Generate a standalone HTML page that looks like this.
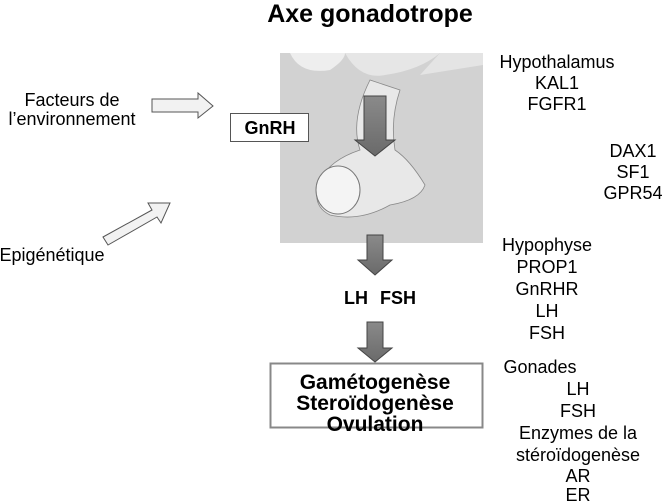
<!DOCTYPE html>
<html><head><meta charset="utf-8"><style>
body{margin:0;background:#fff;}
svg{display:block;font-family:"Liberation Sans",Arial,sans-serif;}
</style></head><body>
<svg width="662" height="502" viewBox="0 0 662 502" xmlns="http://www.w3.org/2000/svg">
<defs>
<linearGradient id="g" x1="0" y1="0" x2="0" y2="1"><stop offset="0" stop-color="#8a8a8a"/><stop offset="1" stop-color="#6a6a6a"/></linearGradient>
</defs>
<text x="370" y="22" font-size="25" font-weight="bold" text-anchor="middle">Axe gonadotrope</text>
<rect x="280" y="53" width="203" height="190" fill="#d2d2d2"/>
<path d="M290 53 Q300 75 330 70 Q345 60 345 53 Z" fill="#eeeeee"/>
<path d="M345 53 Q360 80 385 75 Q420 70 440 53 Z" fill="#e6e6e6"/>
<path d="M420 75 L483 65 L483 53 L440 53 Z" fill="#e4e4e4"/>
<path d="M370 80 Q350 120 360 150 Q330 160 320 180 Q310 205 330 215 Q360 222 390 205 Q420 200 425 185 Q410 160 395 150 Q390 120 400 90 Z" fill="#e8e8e8" stroke="#888" stroke-width="0.8"/>
<ellipse cx="338" cy="190" rx="22" ry="24" fill="#f4f4f4" stroke="#777"/>
<rect x="230.5" y="113.5" width="78" height="28" fill="#fff" stroke="#555"/>
<text x="270" y="134" font-size="18" font-weight="bold" text-anchor="middle">GnRH</text>
<path d="M364 96 H386 V140 H395 L375 156 L355 140 H364 Z" fill="url(#g)" stroke="#444"/>
<path d="M367 235 H383 V260 H392 L375 275 L358 260 H367 Z" fill="url(#g)" stroke="#444"/>
<path d="M367 322 H383 V348 H392 L375 362 L358 348 H367 Z" fill="url(#g)" stroke="#444"/>
<path d="M152 99 H198 V93 L213 106 L198 118 V112 H152 Z" fill="#f2f2f2" stroke="#555"/>
<path d="M103 237 L152 210 L148 203 L170 203 L161 223 L157 217 L108 245 Z" fill="#f2f2f2" stroke="#555"/>
<text x="356" y="304" font-size="18" font-weight="bold" text-anchor="middle">LH</text>
<text x="398" y="304" font-size="18" font-weight="bold" text-anchor="middle">FSH</text>
<rect x="270.5" y="363.5" width="212" height="64" fill="#fff" stroke="#888" stroke-width="2"/>
<g font-size="21" font-weight="bold" text-anchor="middle">
<text x="375" y="389">Gamétogenèse</text>
<text x="375" y="410">Steroïdogenèse</text>
<text x="375" y="431">Ovulation</text>
</g>
<g font-size="18" text-anchor="middle">
<text x="72" y="106">Facteurs de</text>
<text x="72" y="125">l’environnement</text>
<text x="52" y="261">Epigénétique</text>
<text x="557" y="68">Hypothalamus</text>
<text x="557" y="89">KAL1</text>
<text x="557" y="110">FGFR1</text>
<text x="633" y="157">DAX1</text>
<text x="633" y="178">SF1</text>
<text x="633" y="199">GPR54</text>
<text x="547" y="251">Hypophyse</text>
<text x="547" y="273">PROP1</text>
<text x="547" y="295">GnRHR</text>
<text x="547" y="317">LH</text>
<text x="547" y="339">FSH</text>
<text x="540" y="373">Gonades</text>
<text x="578" y="395">LH</text>
<text x="578" y="417">FSH</text>
<text x="578" y="439">Enzymes de la</text>
<text x="578" y="461">stéroïdogenèse</text>
<text x="578" y="482">AR</text>
<text x="578" y="501">ER</text>
</g>
</svg>
</body></html>
